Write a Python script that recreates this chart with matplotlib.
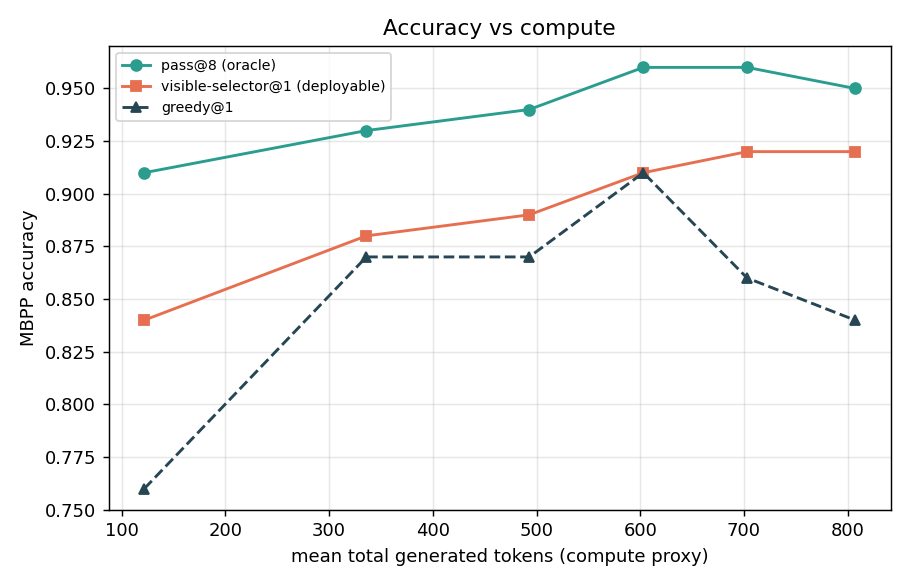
import matplotlib
matplotlib.use("Agg")
import matplotlib.pyplot as plt

tokens = [122, 336, 493, 603, 703, 807]
pass8 = [0.91, 0.93, 0.94, 0.96, 0.96, 0.95]
selector = [0.84, 0.88, 0.89, 0.91, 0.92, 0.92]
greedy = [0.76, 0.87, 0.87, 0.91, 0.86, 0.84]

fig, ax = plt.subplots(figsize=(7, 4.5), dpi=130)
ax.plot(tokens, pass8, marker='o', color='#2a9d8f', lw=1.6, ms=6, label='pass@8 (oracle)')
ax.plot(tokens, selector, marker='s', color='#e76f51', lw=1.6, ms=6, label='visible-selector@1 (deployable)')
ax.plot(tokens, greedy, marker='^', color='#264653', lw=1.6, ms=6, ls='--', label='greedy@1')
ax.set_title('Accuracy vs compute')
ax.set_xlabel('mean total generated tokens (compute proxy)')
ax.set_ylabel('MBPP accuracy')
ax.grid(True, alpha=0.3)
ax.legend(loc='upper left', fontsize=7.8)
fig.tight_layout()
fig.savefig('out.png')
